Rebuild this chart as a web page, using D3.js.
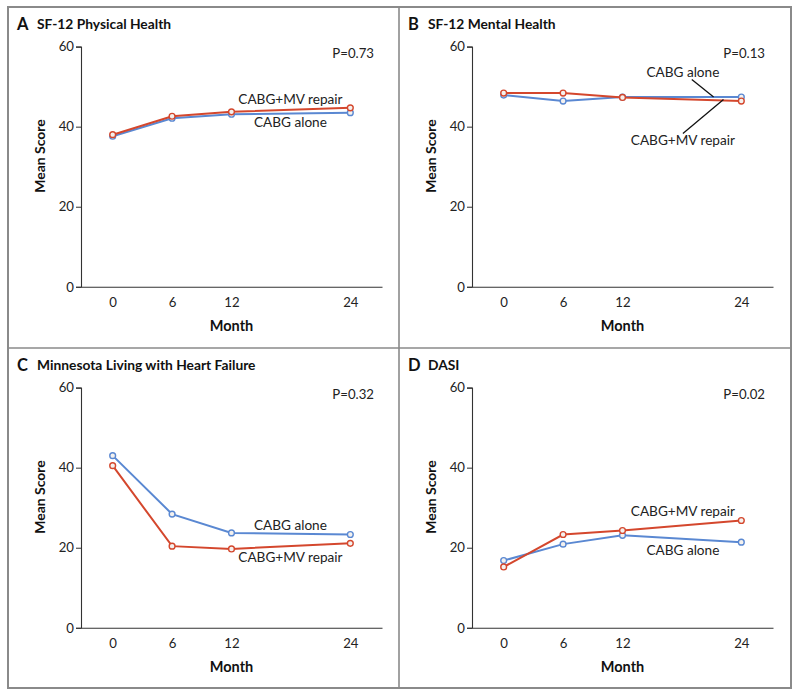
<!DOCTYPE html>
<html>
<head>
<meta charset="utf-8">
<script src="https://cdn.jsdelivr.net/npm/d3@7"></script>
<style>
  body { margin: 0; background: #fff; }
  svg { font-family: Lato, "Open Sans", sans-serif; }
</style>
</head>
<body>
<div id="chart"></div>
<script>
// months shared by all panels
var months = [0, 6, 12, 24];
var yTicks = [0, 20, 40, 60];

var panelLetters = ["A", "B", "C", "D"];
var panelTitles = ["SF-12 Physical Health", "SF-12 Mental Health", "Minnesota Living with Heart Failure", "DASI"];
var pValues = ["P=0.73", "P=0.13", "P=0.32", "P=0.02"];

// mean scores
var cabgAlone = [
  [37.6, 42.1, 43.1, 43.5],
  [47.9, 46.4, 47.4, 47.4],
  [43.0, 28.4, 23.7, 23.3],
  [16.8, 20.9, 23.1, 21.4]
];
var cabgMV = [
  [38.0, 42.6, 43.7, 44.7],
  [48.4, 48.4, 47.3, 46.4],
  [40.5, 20.4, 19.7, 21.1],
  [15.2, 23.3, 24.3, 26.8]
];

// label anchors in data units (month, score)
var labelAnchors = [
  { mv: [17.95, 46.9], alone: [17.95, 41.1] },
  { mv: [18.1, 36.5], alone: [18.1, 53.6] },
  { mv: [17.95, 17.7], alone: [17.95, 25.5] },
  { mv: [18.1, 29.1], alone: [18.1, 19.45] }
];
// leader lines for panel B
var leaders = [
  { panel: 1, from: [19.0, 51.8], to: [21.2, 47.4] },
  { panel: 1, from: [18.1, 38.3], to: [22.2, 46.8] }
];

var W = 800, H = 697;
var blue = "#5a88d2", red = "#d4472d";

var svg = d3.select("#chart").append("svg")
  .attr("width", W).attr("height", H);

var panelX = [8, 399], panelY = [7, 348];

// frame
svg.append("rect")
  .attr("x", 8).attr("y", 7).attr("width", 783).attr("height", 681)
  .attr("fill", "none").attr("stroke", "#8a8a8a").attr("stroke-width", 2);
svg.append("line").attr("x1", 399).attr("x2", 399).attr("y1", 7).attr("y2", 688)
  .attr("stroke", "#8a8a8a").attr("stroke-width", 1.6);
svg.append("line").attr("x1", 8).attr("x2", 791).attr("y1", 348).attr("y2", 348)
  .attr("stroke", "#8a8a8a").attr("stroke-width", 1.6);

var x = d3.scaleLinear().domain([-3.2, 27.2]).range([73, 374]);
var y = d3.scaleLinear().domain([0, 60]).range([279.8, 39.6]);

var line = d3.line().x(function(d, i) { return x(months[i]); }).y(function(d) { return y(d); });

panelTitles.forEach(function(title, p) {
  var g = svg.append("g")
    .attr("transform", "translate(" + panelX[p % 2] + "," + panelY[Math.floor(p / 2)] + ")");

  g.append("text").attr("x", 9).attr("y", 22.5)
    .attr("font-size", 16.5).attr("font-weight", "bold").attr("fill", "#111")
    .text(panelLetters[p]);
  g.append("text").attr("x", 29).attr("y", 22)
    .attr("font-size", 13.8).attr("font-weight", "bold").attr("fill", "#111")
    .text(title);

  // y axis
  var yAxis = g.append("g").attr("transform", "translate(73,0)")
    .call(d3.axisLeft(y).tickValues(yTicks).tickSize(5).tickPadding(2));
  // x axis
  var xAxis = g.append("g").attr("transform", "translate(0," + y(0) + ")")
    .call(d3.axisBottom(x).tickValues(months).tickSize(0).tickPadding(11));
  [yAxis, xAxis].forEach(function(a) {
    a.select(".domain").attr("stroke", "#333").attr("stroke-width", 1.1);
    a.selectAll(".tick line").attr("stroke", "#333");
    a.selectAll("text").attr("font-family", "Lato, sans-serif").attr("font-size", 13.2).attr("fill", "#222");
  });

  g.append("text").attr("x", (x(0) + x(24)) / 2).attr("y", 324)
    .attr("text-anchor", "middle").attr("font-size", 14.5).attr("font-weight", "bold").attr("fill", "#111")
    .text("Month");
  g.append("text").attr("transform", "translate(37,149) rotate(-90)")
    .attr("text-anchor", "middle").attr("font-size", 14).attr("font-weight", "bold").attr("fill", "#111")
    .text("Mean Score");

  g.append("text").attr("x", 366).attr("y", 50.5)
    .attr("text-anchor", "end").attr("font-size", 13.2).attr("fill", "#222")
    .text(pValues[p]);

  // series
  [[cabgAlone[p], blue], [cabgMV[p], red]].forEach(function(s) {
    g.append("path").datum(s[0])
      .attr("d", line).attr("fill", "none")
      .attr("stroke", s[1]).attr("stroke-width", 2);
    g.selectAll(null).data(s[0]).enter().append("circle")
      .attr("cx", function(d, i) { return x(months[i]); })
      .attr("cy", function(d) { return y(d); })
      .attr("r", 2.9)
      .attr("fill", "#f4f1ee").attr("stroke", s[1]).attr("stroke-width", 1.4);
  });

  var la = labelAnchors[p];
  g.append("text").attr("x", x(la.mv[0])).attr("y", y(la.mv[1]))
    .attr("dy", "0.35em").attr("text-anchor", "middle")
    .attr("font-size", 13.6).attr("fill", "#222").text("CABG+MV repair");
  g.append("text").attr("x", x(la.alone[0])).attr("y", y(la.alone[1]))
    .attr("dy", "0.35em").attr("text-anchor", "middle")
    .attr("font-size", 13.6).attr("fill", "#222").text("CABG alone");

  leaders.filter(function(l) { return l.panel === p; }).forEach(function(l) {
    g.append("line")
      .attr("x1", x(l.from[0])).attr("y1", y(l.from[1]))
      .attr("x2", x(l.to[0])).attr("y2", y(l.to[1]))
      .attr("stroke", "#111").attr("stroke-width", 1.3);
  });
});
</script>
</body>
</html>
